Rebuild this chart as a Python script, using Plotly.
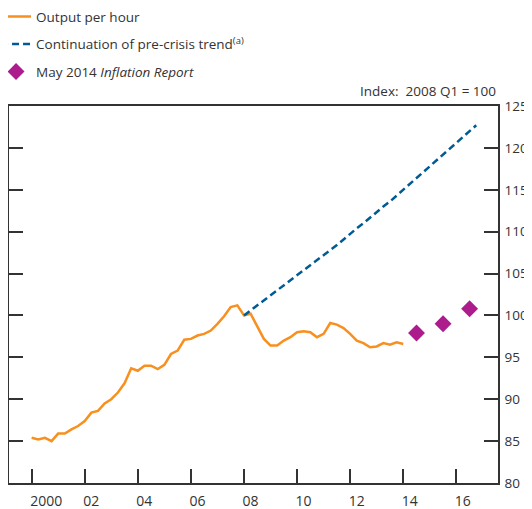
import plotly.graph_objects as go

# Quarterly dates (year + (quarter-1)/4)
oph_dates = [2000.00, 2000.25, 2000.50, 2000.75, 2001.00, 2001.25, 2001.50, 2001.75,
             2002.00, 2002.25, 2002.50, 2002.75, 2003.00, 2003.25, 2003.50, 2003.75,
             2004.00, 2004.25, 2004.50, 2004.75, 2005.00, 2005.25, 2005.50, 2005.75,
             2006.00, 2006.25, 2006.50, 2006.75, 2007.00, 2007.25, 2007.50, 2007.75,
             2008.00, 2008.25, 2008.50, 2008.75, 2009.00, 2009.25, 2009.50, 2009.75,
             2010.00, 2010.25, 2010.50, 2010.75, 2011.00, 2011.25, 2011.50, 2011.75,
             2012.00, 2012.25, 2012.50, 2012.75, 2013.00, 2013.25, 2013.50, 2013.75,
             2014.00]
oph_values = [85.4, 85.2, 85.4, 85.0, 85.9, 85.9, 86.4, 86.8,
              87.4, 88.4, 88.6, 89.5, 90.0, 90.8, 91.9, 93.7,
              93.4, 94.0, 94.0, 93.6, 94.1, 95.4, 95.8, 97.1,
              97.2, 97.6, 97.8, 98.2, 99.0, 99.9, 101.0, 101.2,
              100.0, 100.2, 98.7, 97.2, 96.4, 96.4, 97.0, 97.4,
              98.0, 98.1, 98.0, 97.4, 97.8, 99.1, 98.9, 98.5,
              97.8, 97.0, 96.7, 96.2, 96.3, 96.7, 96.5, 96.8,
              96.6]

trend_dates = [2008.00, 2008.25, 2008.50, 2008.75, 2009.00, 2009.25, 2009.50, 2009.75,
               2010.00, 2010.25, 2010.50, 2010.75, 2011.00, 2011.25, 2011.50, 2011.75,
               2012.00, 2012.25, 2012.50, 2012.75, 2013.00, 2013.25, 2013.50, 2013.75,
               2014.00, 2014.25, 2014.50, 2014.75, 2015.00, 2015.25, 2015.50, 2015.75,
               2016.00, 2016.25, 2016.50, 2016.75]
trend_values = [100.0, 100.6, 101.2, 101.7, 102.3, 102.9, 103.5, 104.1,
                104.7, 105.3, 106.0, 106.6, 107.2, 107.8, 108.4, 109.1,
                109.7, 110.4, 111.0, 111.7, 112.3, 113.0, 113.6, 114.3,
                115.0, 115.7, 116.4, 117.0, 117.7, 118.4, 119.1, 119.8,
                120.5, 121.3, 122.0, 122.7]

ir_dates = [2014.5, 2015.5, 2016.5]
ir_values = [97.9, 99.0, 100.8]

x_tickvals = [2000, 2002, 2004, 2006, 2008, 2010, 2012, 2014, 2016]
x_ticktext = ["2000", "02", "04", "06", "08", "10", "12", "14", "16"]
y_tickvals = [80, 85, 90, 95, 100, 105, 110, 115, 120, 125]

FONT = "Open Sans"
ORANGE = "#F7901E"
BLUE = "#005B94"
MAGENTA = "#AC1C8C"
AXIS = "#333333"
TEXT = "#333333"

fig = go.Figure()
fig.add_trace(go.Scatter(x=oph_dates, y=oph_values, mode="lines",
                         line=dict(color=ORANGE, width=2.5),
                         name="Output per hour", legendgroup="a"))
fig.add_trace(go.Scatter(x=trend_dates, y=trend_values, mode="lines",
                         line=dict(color=BLUE, width=2.5, dash="7px,4px"),
                         name="Continuation of pre-crisis trend<sup>(a)</sup>", legendgroup="b"))
fig.add_trace(go.Scatter(x=ir_dates, y=ir_values, mode="markers",
                         marker=dict(color=MAGENTA, symbol="diamond", size=13),
                         name="May 2014 <i>Inflation Report</i>", legendgroup="c"))

# The page body adds an 8px margin, so the figure is sized to fit the window.
fig.update_layout(
    width=524, height=501,
    margin=dict(l=1, r=34, t=98, b=26, autoexpand=False),
    paper_bgcolor="white", plot_bgcolor="white",
    font=dict(family=FONT, size=14, color=TEXT),
    showlegend=True,
    legend=dict(x=-0.0265, y=1.278, xanchor="left", yanchor="top",
                font=dict(family=FONT, size=13.5, color=TEXT),
                traceorder="grouped", tracegroupgap=7,
                bgcolor="rgba(0,0,0,0)"),
    xaxis=dict(range=[1999.147, 2017.57], tickmode="array",
               tickvals=x_tickvals, ticktext=x_ticktext,
               ticks="inside", ticklen=14, tickwidth=1.5, tickcolor=AXIS,
               showline=True, linecolor=AXIS, linewidth=1.5, mirror=True,
               showgrid=False, zeroline=False,
               ticklabelposition="outside right", ticklabelshift=-3,
               ticklabelstandoff=4,
               tickfont=dict(family=FONT, size=14, color=TEXT)),
    yaxis=dict(range=[80, 125], side="right", tickmode="array",
               tickvals=y_tickvals,
               ticks="inside", ticklen=14, tickwidth=1.5, tickcolor=AXIS,
               showline=True, linecolor=AXIS, linewidth=1.5, mirror="ticks",
               showgrid=False, zeroline=False, ticklabelstandoff=2,
               tickfont=dict(family=FONT, size=13.5, color=TEXT)),
    annotations=[dict(text="Index:  2008 Q1 = 100", xref="paper", yref="paper",
                      x=1, y=1, xanchor="right", yanchor="bottom", yshift=4,
                      showarrow=False,
                      font=dict(family=FONT, size=13.5, color=TEXT))],
)

fig.write_html("out.html")
